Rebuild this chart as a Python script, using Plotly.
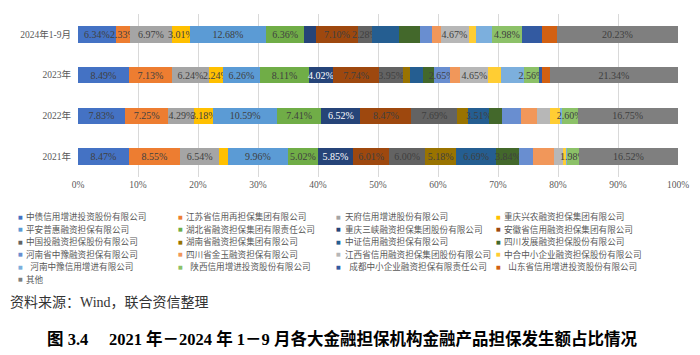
import plotly.graph_objects as go

periods = ["2024年1-9月", "2023年", "2022年", "2021年"]

series_names = [
    "中债信用增进投资股份有限公司", "江苏省信用再担保集团有限公司", "天府信用增进股份有限公司", "重庆兴农融资担保集团有限公司",
    "平安普惠融资担保有限公司", "湖北省融资担保集团有限责任公司", "重庆三峡融资担保集团股份有限公司", "安徽省信用融资担保集团有限公司",
    "中国投融资担保股份有限公司", "湖南省融资担保集团有限公司", "中证信用融资担保有限公司", "四川发展融资担保股份有限公司",
    "河南省中豫融资担保有限公司", "四川省金玉融资担保有限公司", "江西省信用融资担保集团股份有限公司", "中合中小企业融资担保股份有限公司",
    "河南中豫信用增进有限公司", "陕西信用增进投资股份有限公司", "成都中小企业融资担保有限责任公司", "山东省信用增进投资股份有限公司",
    "其他",
]

# share (%) per series, in the order of `periods`
s01 = [6.34, 8.49, 7.83, 8.47]
s02 = [2.33, 7.13, 7.25, 8.55]
s03 = [6.97, 6.24, 4.29, 6.54]
s04 = [3.01, 2.24, 3.18, 1.45]
s05 = [12.68, 6.26, 10.59, 9.96]
s06 = [6.36, 8.11, 7.41, 5.02]
s07 = [1.90, 4.02, 6.52, 5.85]
s08 = [7.10, 7.74, 8.47, 6.01]
s09 = [2.28, 3.95, 7.69, 6.00]
s10 = [0.00, 1.20, 1.83, 5.18]
s11 = [4.50, 2.10, 3.51, 6.69]
s12 = [3.50, 1.80, 2.13, 3.84]
s13 = [1.95, 2.65, 3.15, 2.35]
s14 = [1.50, 1.80, 2.60, 3.40]
s15 = [4.67, 4.65, 2.15, 1.45]
s16 = [1.30, 2.05, 1.75, 0.65]
s17 = [2.60, 3.85, 0.30, 0.10]
s18 = [4.98, 2.56, 2.60, 1.98]
s19 = [3.40, 0.45, 0.00, 0.00]
s20 = [2.40, 1.37, 0.00, 0.00]
s21 = [20.23, 21.34, 16.75, 16.52]
series_values = [s01, s02, s03, s04, s05, s06, s07, s08, s09, s10, s11,
                 s12, s13, s14, s15, s16, s17, s18, s19, s20, s21]

# which series carry a data label, per period (1-based series numbers)
labelled = {
    "2024年1-9月": [1, 2, 3, 4, 5, 6, 8, 9, 15, 18, 21],
    "2023年": [1, 2, 3, 4, 5, 6, 7, 8, 9, 13, 15, 18, 21],
    "2022年": [1, 2, 3, 4, 5, 6, 7, 8, 9, 11, 18, 21],
    "2021年": [1, 2, 3, 5, 6, 7, 8, 9, 10, 11, 12, 18, 21],
}

colors = ["#4472C4", "#ED7D31", "#A5A5A5", "#FFC000", "#5B9BD5", "#70AD47",
          "#264478", "#9E480E", "#636363", "#997300", "#255E91", "#43682B",
          "#698ED0", "#F1975A", "#B7B7B7", "#FFCD33", "#7CAFDD", "#8CC168",
          "#335AA1", "#D26012", "#7F7F7F"]

SERIF = "Liberation Serif, Noto Sans CJK SC, serif"

fig = go.Figure()
for i, (name, vals) in enumerate(zip(series_names, series_values)):
    n = i + 1
    texts = [f"{v:.2f}%" if n in labelled[p] else "" for p, v in zip(periods, vals)]
    fig.add_trace(go.Bar(
        y=periods, x=vals, name=name, orientation="h",
        marker=dict(color=colors[i], line=dict(width=0)),
        text=texts, textposition="inside", insidetextanchor="middle",
        textangle=0,
        textfont=dict(family=SERIF, size=10,
                      color="#FFFFFF" if n == 7 else "#404040"),
        hoverinfo="skip", showlegend=False,
    ))

W, H = 700, 355
L, R, T, B = 78, 678, 14, 177

def px(x):
    return (x - L) / (R - L)

def py(y):
    return (B - y) / (B - T)

annotations = []
col_marker = [20, 180, 338, 498]
col_text = [24, 184, 343, 502]
row_y = [216.5, 229.0, 241.5, 254.0, 266.5, 279.0]
for i, name in enumerate(series_names):
    r, c = divmod(i, 4)
    lead = "\u00a0\u00a0" if r == 4 else ""
    annotations.append(dict(
        x=px(col_marker[c]), y=py(row_y[r]), xref="paper", yref="paper",
        text="■", showarrow=False, xanchor="center", yanchor="middle",
        font=dict(size=5, color=colors[i], family="DejaVu Sans")))
    annotations.append(dict(
        x=px(col_text[c]), y=py(row_y[r]), xref="paper", yref="paper",
        text=lead + name, showarrow=False, xanchor="left", yanchor="middle",
        font=dict(size=8.6, color="#595959", family=SERIF)))

annotations.append(dict(
    x=px(8), y=py(302), xref="paper", yref="paper", showarrow=False,
    xanchor="left", yanchor="middle",
    text="资料来源：Wind，联合资信整理",
    font=dict(size=14, color="#333333", family=SERIF)))
annotations.append(dict(
    x=px(341.5), y=py(339), xref="paper", yref="paper", showarrow=False,
    xanchor="center", yanchor="middle",
    text="<b>图 3.4　 2021 年－2024 年 1－9 月各大金融担保机构金融产品担保发生额占比情况</b>",
    font=dict(size=16.5, color="#000000", family=SERIF)))

fig.update_layout(
    width=W, height=H,
    margin=dict(l=L, r=W - R, t=T, b=H - B, pad=0),
    barmode="stack", bargap=0.6,
    paper_bgcolor="white", plot_bgcolor="white",
    uniformtext=dict(minsize=10, mode="show"),
    xaxis=dict(range=[0, 100], dtick=10, tick0=0, ticksuffix="%",
               showgrid=True, gridcolor="#D9D9D9", gridwidth=1,
               zeroline=False, showline=False, ticks="",
               tickfont=dict(family=SERIF, size=9.5, color="#595959"),
               fixedrange=True),
    yaxis=dict(categoryorder="array", categoryarray=periods,
               autorange="reversed", showgrid=False, zeroline=False,
               showline=False, ticks="", ticklabelstandoff=6,
               tickfont=dict(family=SERIF, size=9.5, color="#595959"),
               fixedrange=True),
    annotations=annotations,
    showlegend=False,
    hovermode=False,
)

fig.write_html("out.html",
               config={"displayModeBar": False, "staticPlot": True},
               post_script="document.body.style.margin='0';document.body.style.overflow='hidden';")
